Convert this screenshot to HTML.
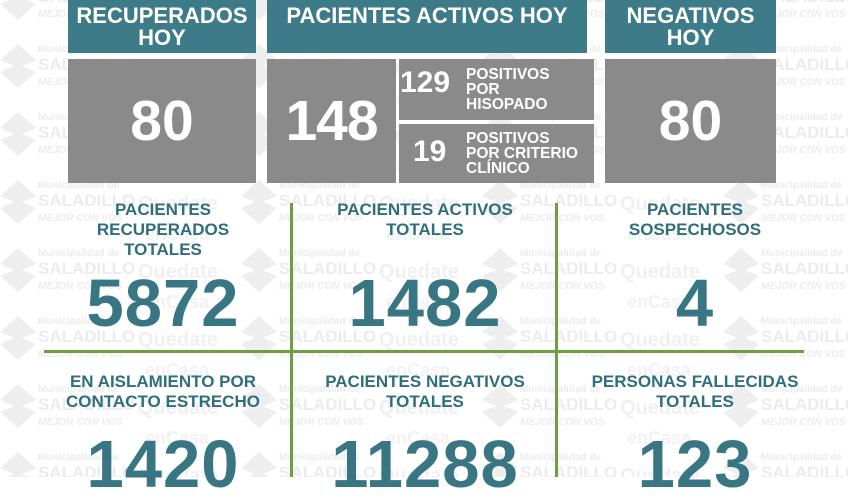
<!DOCTYPE html>
<html><head><meta charset="utf-8"><style>
body{margin:0;width:848px;height:477px;overflow:hidden;background:#fff;font-family:"Liberation Sans",sans-serif;font-weight:bold;position:relative}
.a{position:absolute}
.teal{background:#3e7b88;color:#fff}
.gray{background:#8b8a8b;color:#fff}
.h{font-size:22px;line-height:22px;text-align:center;padding-top:5px;box-sizing:border-box}
.big{font-size:57px;line-height:56px;text-align:center}
.lab{color:#2f6e7c;font-size:17px;line-height:20px;text-align:center;width:270px}
.num{color:#387683;font-size:67px;line-height:66px;text-align:center;width:270px;letter-spacing:1px}
.g{background:#6c9f3f}
.sub{font-size:15.5px;line-height:15px}
</style></head><body>
<svg class="a" style="left:0;top:0" width="848" height="477">
<defs><pattern id="p" width="241" height="68" patternUnits="userSpaceOnUse" patternTransform="translate(0,42)">
<polygon points="18,2 36,18 22,24 36,30 18,46 0,30 14,24 0,18" fill="#eeeeee"/>
<text x="38" y="10" font-family="Liberation Sans" font-weight="bold" font-size="10" fill="#ececec">Municipalidad de</text>
<text x="38" y="28" font-family="Liberation Sans" font-size="17" fill="#ececec">SALADILLO</text>
<text x="38" y="43" font-family="Liberation Sans" font-style="italic" font-size="10" fill="#ececec">MEJOR CON VOS</text>
<text x="138" y="32" font-family="Liberation Sans" font-weight="bold" font-size="20" fill="#f0f0f0">Quedate</text>
<text x="145" y="62" font-family="Liberation Sans" font-weight="bold" font-size="18" fill="#f2f2f2">enCasa</text>
</pattern></defs>
<rect width="848" height="477" fill="url(#p)"/>
</svg>

<div class="a teal h" style="left:68px;top:0;width:188px;height:53px">RECUPERADOS<br>HOY</div>
<div class="a teal h" style="left:267px;top:0;width:320px;height:53px">PACIENTES ACTIVOS HOY</div>
<div class="a teal h" style="left:605px;top:0;width:171px;height:53px">NEGATIVOS<br>HOY</div>

<div class="a gray" style="left:68px;top:59px;width:188px;height:124px"></div>
<div class="a big" style="left:68px;top:93px;width:188px;color:#fff">80</div>
<div class="a gray" style="left:267px;top:59px;width:129px;height:124px"></div>
<div class="a big" style="left:267px;top:93px;width:129px;color:#fff;letter-spacing:-1px">148</div>
<div class="a gray" style="left:399px;top:59px;width:195px;height:61px"></div>
<div class="a gray" style="left:399px;top:124px;width:195px;height:59px"></div>
<div class="a" style="left:400px;top:68px;font-size:30px;line-height:30px;color:#fff">129</div>
<div class="a" style="left:413px;top:137px;font-size:30px;line-height:30px;color:#fff">19</div>
<div class="a sub" style="left:466px;top:67px;color:#fff">POSITIVOS<br>POR<br>HISOPADO</div>
<div class="a sub" style="left:466px;top:131px;color:#fff">POSITIVOS<br>POR CRITERIO<br>CLÍNICO</div>
<div class="a gray" style="left:605px;top:59px;width:171px;height:124px"></div>
<div class="a big" style="left:605px;top:93px;width:171px;color:#fff">80</div>

<div class="a g" style="left:290px;top:203px;width:3px;height:274px"></div>
<div class="a g" style="left:555px;top:203px;width:3px;height:274px"></div>
<div class="a g" style="left:44px;top:350px;width:760px;height:3px"></div>

<div class="a lab" style="left:28px;top:200px">PACIENTES<br>RECUPERADOS<br>TOTALES</div>
<div class="a lab" style="left:290px;top:200px">PACIENTES ACTIVOS<br>TOTALES</div>
<div class="a lab" style="left:560px;top:200px">PACIENTES<br>SOSPECHOSOS</div>
<div class="a num" style="left:28px;top:271px">5872</div>
<div class="a num" style="left:290px;top:271px">1482</div>
<div class="a num" style="left:560px;top:271px">4</div>

<div class="a lab" style="left:28px;top:372px">EN AISLAMIENTO POR<br>CONTACTO ESTRECHO</div>
<div class="a lab" style="left:290px;top:372px">PACIENTES NEGATIVOS<br>TOTALES</div>
<div class="a lab" style="left:560px;top:372px">PERSONAS FALLECIDAS<br>TOTALES</div>
<div class="a num" style="left:28px;top:432px">1420</div>
<div class="a num" style="left:290px;top:432px">11288</div>
<div class="a num" style="left:560px;top:432px">123</div>
</body></html>
